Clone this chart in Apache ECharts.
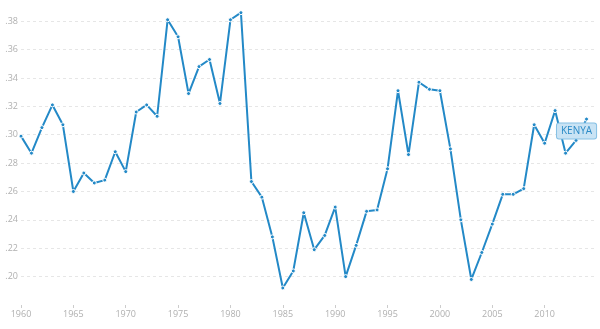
<!DOCTYPE html>
<html>
<head>
<meta charset="utf-8">
<script src="https://cdn.jsdelivr.net/npm/echarts@6/dist/echarts.min.js"></script>
<style>html,body{margin:0;padding:0;background:#fff}#c{width:600px;height:329px}</style>
</head>
<body>
<div id="c"></div>
<script>
var years = [1960,1961,1962,1963,1964,1965,1966,1967,1968,1969,1970,1971,1972,1973,1974,1975,1976,1977,1978,1979,1980,1981,1982,1983,1984,1985,1986,1987,1988,1989,1990,1991,1992,1993,1994,1995,1996,1997,1998,1999,2000,2001,2002,2003,2004,2005,2006,2007,2008,2009,2010,2011,2012,2013,2014];
var kenya = [0.299,0.287,0.305,0.321,0.307,0.260,0.273,0.266,0.268,0.288,0.274,0.316,0.321,0.313,0.381,0.369,0.329,0.348,0.353,0.322,0.381,0.386,0.267,0.256,0.228,0.192,0.204,0.245,0.219,0.229,0.249,0.200,0.222,0.246,0.247,0.276,0.331,0.286,0.337,0.332,0.331,0.290,0.240,0.198,0.217,0.237,0.258,0.258,0.262,0.307,0.294,0.317,0.287,0.296,0.311];
var xTicks = [1960,1965,1970,1975,1980,1985,1990,1995,2000,2005,2010];
var seriesName = 'KENYA';

var data = years.map(function(y,i){ return [y, kenya[i]]; });
var last = data.length - 1;
data[last] = {
  value: data[last],
  label: {
    show: true, position: 'inside', offset: [-10, 12],
    formatter: seriesName,
    color: '#2a8ac6', fontFamily: 'Open Sans', fontSize: 10,
    backgroundColor: '#c9e3f4', borderColor: '#86c0e4', borderWidth: 1,
    borderRadius: 2, padding: [3, 4, 2, 4]
  }
};

var chart = echarts.init(document.getElementById('c'), null, {renderer: 'canvas'});
chart.setOption({
  animation: false,
  grid: {left: 21, right: 3, top: 7, bottom: 24},
  xAxis: {
    type: 'value', min: 1960, max: 2015,
    axisLine: {show: false},
    axisTick: {show: true, customValues: xTicks, length: 3, lineStyle: {color: '#cccccc'}},
    axisLabel: {customValues: xTicks, color: '#b0b0b0', fontSize: 9, fontFamily: 'Open Sans', margin: 5,
      formatter: function(v){ return String(v); }},
    splitLine: {show: false}
  },
  yAxis: {
    type: 'value', min: 0.18, max: 0.39, interval: 0.02,
    axisLine: {show: false}, axisTick: {show: false},
    axisLabel: {color: '#b0b0b0', fontSize: 9, fontFamily: 'Open Sans', margin: 3,
      showMinLabel: false, showMaxLabel: false,
      formatter: function(v){ return v.toFixed(2).replace(/^0/, ''); }},
    splitLine: {show: true, showMinLine: false, showMaxLine: false,
      lineStyle: {color: '#e6e6e6', type: [3, 3], width: 1}}
  },
  series: [{
    name: seriesName, type: 'line', data: data,
    symbol: 'circle', symbolSize: 4, showAllSymbol: true,
    lineStyle: {color: '#2389c7', width: 2},
    itemStyle: {color: '#2389c7', borderColor: '#ffffff', borderWidth: 1},
    z: 3
  }]
});
</script>
</body>
</html>
